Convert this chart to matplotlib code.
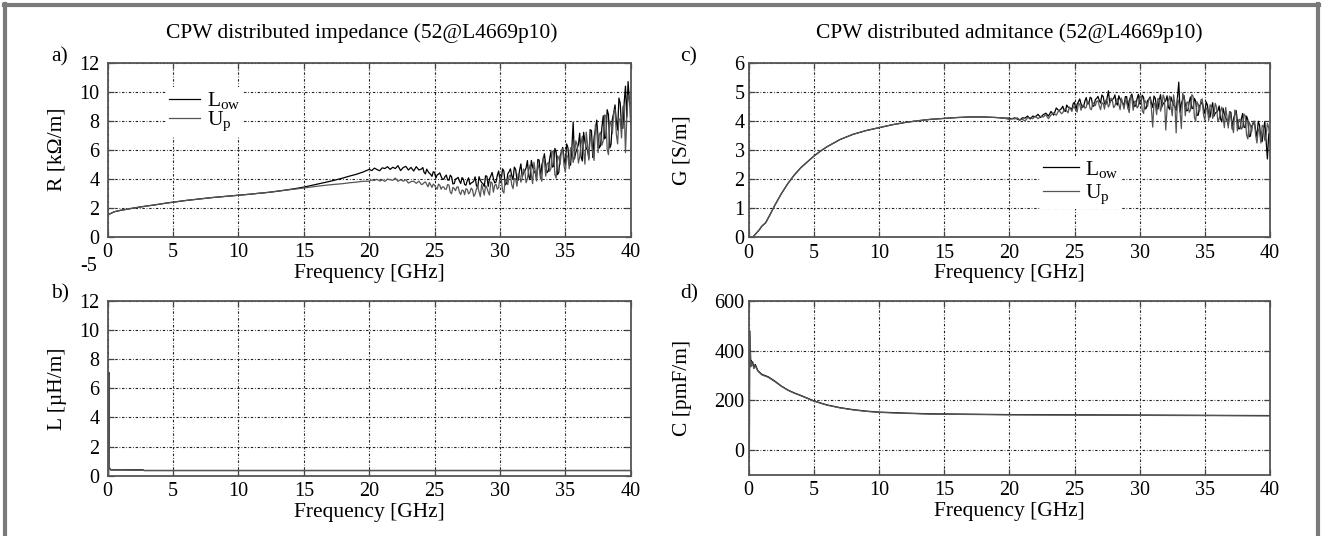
import numpy as np
import matplotlib
matplotlib.use("Agg")
import matplotlib.pyplot as plt

plt.rcParams['font.family'] = ['Liberation Serif', 'DejaVu Serif']
plt.rcParams['mathtext.fontset'] = 'custom'
plt.rcParams['mathtext.rm'] = 'Liberation Serif'
plt.rcParams['mathtext.it'] = 'Liberation Serif:italic'

# ---------------- data ----------------
x_ticks = [0, 5, 10, 15, 20, 25, 30, 35, 40]
series_names = ['L$_{\\rm ow}$', 'U$_{\\rm p}$']

# R [kOhm/m], low band (0 .. 19.5 GHz, 0.5 GHz step)
R_low_lo = [1.50, 1.72, 1.82, 1.90, 1.98, 2.05, 2.12, 2.18, 2.25, 2.32,
            2.38, 2.44, 2.50, 2.55, 2.60, 2.65, 2.70, 2.74, 2.78, 2.82,
            2.86, 2.90, 2.94, 2.99, 3.03, 3.08, 3.14, 3.20, 3.27, 3.34,
            3.42, 3.52, 3.62, 3.72, 3.82, 3.93, 4.05, 4.18, 4.30, 4.45]
R_up_lo = [1.50, 1.72, 1.82, 1.90, 1.98, 2.05, 2.12, 2.18, 2.25, 2.32,
           2.38, 2.44, 2.50, 2.55, 2.60, 2.65, 2.70, 2.74, 2.78, 2.82,
           2.86, 2.90, 2.94, 2.99, 3.03, 3.08, 3.14, 3.20, 3.25, 3.30,
           3.36, 3.42, 3.48, 3.53, 3.58, 3.62, 3.66, 3.72, 3.76, 3.82]
# R high band (20.0 .. 40.0 GHz, 0.2 GHz step)
R_low_hi = [4.64, 4.56, 4.73, 4.63, 4.55, 4.75, 4.70, 4.83, 4.64, 4.79,
            4.70, 4.90, 4.56, 4.77, 4.85, 4.60, 4.78, 4.53, 4.83, 4.60,
            4.67, 4.43, 4.66, 4.38, 4.16, 4.43, 4.26, 4.40, 3.97, 4.15,
            3.91, 4.24, 3.64, 3.97, 4.09, 3.67, 3.97, 3.55, 4.06, 3.70,
            3.84, 3.52, 4.14, 3.73, 3.46, 4.17, 3.99, 4.43, 3.71, 4.24,
            3.92, 4.68, 3.58, 4.34, 4.68, 3.94, 4.64, 3.90, 5.02, 4.40,
            4.74, 4.16, 5.26, 4.52, 4.02, 5.28, 4.94, 5.72, 4.42, 5.36,
            4.80, 6.09, 4.28, 5.57, 6.16, 4.95, 6.14, 4.93, 7.90, 5.81,
            6.36, 5.52, 7.20, 6.12, 5.40, 7.32, 6.84, 8.04, 6.12, 7.56,
            6.75, 8.76, 6.12, 8.13, 9.09, 7.35, 9.21, 7.47, 10.38, 10.70,
            9.20]
R_up_hi = [3.83, 3.91, 3.88, 3.96, 3.84, 3.92, 3.82, 3.97, 3.93, 3.89,
           4.04, 3.82, 3.93, 3.83, 3.93, 3.70, 3.80, 3.83, 3.68, 3.83,
           3.59, 3.73, 3.60, 3.74, 3.40, 3.54, 3.28, 3.55, 3.43, 3.27,
           3.60, 3.07, 3.40, 3.17, 3.44, 2.91, 3.18, 3.31, 2.95, 3.35,
           2.78, 3.28, 3.10, 3.60, 2.87, 3.37, 2.87, 3.69, 3.55, 3.28,
           4.10, 3.15, 3.94, 3.59, 4.26, 3.31, 3.98, 4.35, 3.76, 4.67,
           3.72, 4.59, 4.26, 5.13, 3.84, 4.71, 3.82, 5.25, 5.00, 4.51,
           5.90, 4.29, 5.58, 4.97, 6.06, 4.45, 5.54, 6.13, 5.12, 6.61,
           5.08, 6.39, 5.90, 7.21, 5.28, 6.59, 5.26, 7.41, 7.04, 6.31,
           8.40, 6.02, 7.99, 7.11, 8.78, 6.40, 8.07, 8.99, 5.80, 9.78,
           7.70]
# R in-between samples (24.1 .. 39.9 GHz, 0.2 GHz step)
R_low_mid = [4.77, 4.33, 4.49, 4.30, 4.48, 4.05, 4.32, 4.15, 3.96, 4.25,
             3.90, 4.14, 3.66, 4.02, 3.84, 4.08, 3.60, 3.87, 3.60, 3.75,
             4.13, 3.40, 3.89, 3.66, 4.20, 3.47, 4.19, 4.00, 3.77, 4.53,
             3.94, 4.52, 3.66, 4.48, 4.22, 4.80, 3.94, 4.58, 4.14, 4.54,
             5.25, 3.95, 4.81, 4.39, 5.33, 4.03, 5.29, 4.95, 4.53, 5.87,
             4.85, 5.84, 4.43, 5.82, 5.41, 6.40, 4.99, 6.08, 5.37, 6.06,
             7.14, 5.22, 6.54, 5.94, 7.38, 5.46, 7.38, 6.90, 6.30, 8.34,
             6.86, 8.42, 6.38, 8.54, 8.00, 9.56, 7.52, 9.23, 8.24, 9.35]
R_up_mid = [3.63, 3.78, 3.44, 3.58, 3.63, 3.39, 3.62, 3.27, 3.43, 3.28,
            3.56, 2.96, 3.33, 3.42, 3.07, 3.22, 2.90, 3.26, 3.06, 3.24,
            2.94, 3.48, 2.76, 3.26, 3.52, 3.08, 3.79, 3.07, 3.61, 3.39,
            4.08, 3.01, 3.86, 4.17, 3.58, 4.01, 3.48, 4.33, 4.04, 4.53,
            4.00, 4.95, 3.66, 4.53, 5.00, 4.19, 5.46, 4.17, 5.12, 4.71,
            5.85, 4.04, 5.43, 5.92, 4.91, 5.60, 4.69, 6.08, 5.57, 6.36,
            5.50, 6.93, 5.00, 6.31, 7.02, 5.81, 7.72, 5.79, 7.22, 6.61,
            8.34, 5.66, 7.78, 8.55, 7.07, 8.14, 6.81, 8.93, 8.20, 9.42]

# L [uH/m]
L_freq = [0.06, 0.08, 0.12, 0.2, 0.3, 1.0, 2.0, 2.7, 2.8, 10.0, 20.0, 30.0, 40.0]
L_low = [0.0, 7.1, 0.6, 0.42, 0.40, 0.40, 0.40, 0.40, 0.36, 0.36, 0.36, 0.36, 0.36]
L_up = [0.0, 6.9, 0.55, 0.40, 0.39, 0.39, 0.37, 0.37, 0.35, 0.35, 0.35, 0.35, 0.35]

# G [S/m], low band (identical for both)
G_freq_lo = [0.0, 0.3, 0.5, 0.8, 1.0, 1.3, 1.6, 2.0, 2.5, 3.0, 3.5, 4.0, 4.5, 5.0,
             5.5, 6.0, 7.0, 8.0, 9.0, 10.0, 11.0, 12.0, 13.0, 14.0, 15.0, 16.0,
             17.0, 18.0, 19.0, 19.6]
G_lo = [0.0, 0.0, 0.1, 0.25, 0.38, 0.5, 0.75, 1.1, 1.5, 1.85, 2.15, 2.4, 2.6, 2.8,
        2.97, 3.12, 3.37, 3.55, 3.68, 3.78, 3.88, 3.96, 4.02, 4.07, 4.10, 4.13,
        4.15, 4.15, 4.13, 4.11]
# G high band (20.0 .. 40.0 GHz, 0.2 GHz step)
G_low_hi = [4.11, 4.08, 4.12, 4.08, 4.04, 4.12, 4.11, 4.18, 4.08, 4.18,
            4.15, 4.24, 4.13, 4.23, 4.28, 4.18, 4.34, 4.21, 4.46, 4.36,
            4.44, 4.37, 4.56, 4.47, 4.41, 4.66, 4.59, 4.77, 4.48, 4.70,
            4.60, 4.83, 4.51, 4.75, 4.86, 4.63, 4.85, 4.58, 5.05, 4.71,
            4.79, 4.62, 4.88, 4.67, 4.53, 4.85, 4.72, 4.94, 4.51, 4.78,
            4.60, 4.90, 4.42, 4.71, 4.84, 4.48, 4.79, 4.42, 4.92, 4.60,
            4.71, 4.49, 4.84, 4.56, 4.37, 5.35, 4.63, 4.89, 4.36, 4.67,
            4.45, 4.79, 4.20, 4.54, 4.68, 4.27, 4.56, 4.14, 4.64, 4.28,
            4.37, 4.09, 4.45, 4.11, 3.87, 4.31, 4.10, 4.37, 3.74, 4.08,
            3.80, 4.18, 3.47, 3.85, 3.99, 3.46, 3.86, 3.30, 3.98, 2.70,
            3.62]
G_up_hi = [4.06, 4.10, 4.08, 4.12, 4.05, 4.07, 4.01, 4.12, 4.12, 4.09,
           4.18, 4.09, 4.17, 4.15, 4.22, 4.09, 4.22, 4.29, 4.21, 4.38,
           4.26, 4.38, 4.36, 4.49, 4.34, 4.48, 4.32, 4.59, 4.55, 4.45,
           4.68, 4.43, 4.64, 4.54, 4.71, 4.40, 4.62, 4.73, 4.49, 4.80,
           4.47, 4.69, 4.58, 4.80, 4.42, 4.66, 4.30, 4.80, 4.68, 4.46,
           4.88, 4.36, 4.72, 4.50, 4.80, 3.80, 4.59, 4.79, 4.35, 4.91,
           3.70, 4.71, 4.51, 4.91, 3.60, 4.64, 3.75, 4.84, 4.64, 4.31,
           4.92, 4.14, 4.67, 4.34, 4.77, 4.04, 4.41, 4.57, 4.10, 4.62,
           3.99, 4.35, 4.12, 4.48, 3.77, 4.13, 3.61, 4.25, 4.05, 3.73,
           4.25, 3.53, 3.97, 3.65, 4.01, 3.25, 3.66, 3.86, 3.34, 3.93,
           3.23]
# G in-between samples (24.1 .. 39.9 GHz, 0.2 GHz step)
G_low_mid = [4.52, 4.34, 4.49, 4.45, 4.61, 4.38, 4.67, 4.60, 4.51, 4.82,
             4.61, 4.79, 4.54, 4.79, 4.72, 4.91, 4.61, 4.80, 4.64, 4.75,
             4.91, 4.56, 4.76, 4.63, 4.85, 4.45, 4.83, 4.69, 4.54, 4.93,
             4.61, 4.82, 4.45, 4.76, 4.64, 4.87, 4.45, 4.72, 4.50, 4.66,
             4.88, 4.41, 4.68, 4.51, 4.82, 4.31, 4.74, 4.58, 4.38, 4.84,
             4.44, 4.69, 4.22, 4.59, 4.43, 4.67, 4.19, 4.45, 4.18, 4.32,
             4.53, 3.98, 4.25, 4.03, 4.33, 3.73, 4.22, 4.00, 3.75, 4.27,
             3.78, 4.05, 3.49, 3.90, 3.69, 4.00, 3.36, 3.72, 3.36, 3.56]
G_up_mid = [4.30, 4.44, 4.29, 4.42, 4.50, 4.39, 4.62, 4.38, 4.56, 4.49,
            4.67, 4.40, 4.61, 4.69, 4.53, 4.64, 4.42, 4.71, 4.58, 4.73,
            4.53, 4.78, 4.40, 4.62, 4.73, 4.45, 4.89, 4.38, 4.70, 4.52,
            4.84, 4.27, 4.65, 4.77, 4.43, 4.63, 4.23, 4.75, 4.51, 4.79,
            4.43, 4.87, 4.19, 4.59, 4.79, 4.32, 4.97, 4.19, 4.67, 4.39,
            4.87, 4.00, 4.57, 4.74, 4.22, 4.46, 4.03, 4.51, 4.24, 4.48,
            4.09, 4.49, 3.78, 4.14, 4.31, 3.83, 4.39, 3.67, 4.07, 3.79,
            4.19, 3.39, 3.87, 3.99, 3.51, 3.73, 3.25, 3.81, 3.51, 3.79]

# C [pF/m]
C_freq = [0.05, 0.07, 0.1, 0.13, 0.16, 0.2, 0.25, 0.3, 0.4, 0.5, 0.7, 1.0, 1.5,
          2.0, 2.5, 3.0, 3.5, 4.0, 5.0, 6.0, 7.0, 8.0, 9.0, 10.0, 12.0, 14.0,
          16.0, 20.0, 25.0, 30.0, 35.0, 40.0]
C_low = [-30, 480, 380, 400, 340, 360, 345, 355, 330, 345, 320, 305, 295,
         278, 258, 242, 230, 220, 198, 182, 171, 163, 157, 153, 149, 146,
         145, 143, 142, 141, 140, 139]
C_up = [-20, 460, 370, 390, 335, 355, 342, 350, 328, 340, 318, 303, 293,
        276, 257, 241, 229, 219, 197, 181, 170, 162, 156, 152, 148, 145,
        144, 142, 141, 140, 139, 138]

titles = ['CPW distributed impedance (52@L4669p10)',
          'CPW distributed admitance (52@L4669p10)']
ylabels = ['R [k\u03a9/m]', 'L [\u00b5H/m]', 'G [S/m]', 'C [pmF/m]']
panel_tags = ['a)', 'b)', 'c)', 'd)']

# ---------------- helpers ----------------
def merged(f_first, v_first, v_hi, v_mid):
    f_hi = np.linspace(20.0, 40.0, len(v_hi))
    f_mid = np.linspace(24.1, 39.9, len(v_mid))
    f = np.concatenate([f_first, f_hi, f_mid])
    v = np.concatenate([v_first, v_hi, v_mid])
    order = np.argsort(f, kind='stable')
    return f[order], v[order]

# ---------------- figure ----------------
W, H = 1323, 536
fig = plt.figure(figsize=(W / 100, H / 100), dpi=100)
fig.patch.set_facecolor('white')

def px_axes(left, top, right, bottom):
    return fig.add_axes([left / W, 1 - bottom / H, (right - left) / W, (bottom - top) / H])

ax_a = px_axes(107.7, 62.7, 630.7, 236.7)
ax_b = px_axes(107.7, 301.0, 630.7, 475.7)
ax_c = px_axes(748.7, 63.3, 1270.0, 237.3)
ax_d = px_axes(748.7, 301.0, 1270.0, 475.0)

c_low = '#000000'
c_up = '#555555'
lw = 0.9
grid_ls = (0, (2.2, 1.6, 0.7, 1.6))
fs = 14.5

def style(ax, ylim, yticks, ypad):
    ax.set_xlim(0, 40)
    ax.set_ylim(*ylim)
    ax.set_xticks(x_ticks)
    ax.set_yticks(yticks)
    ax.tick_params(direction='in', length=4, width=0.9, top=True, right=True,
                   labelsize=fs, color='#444444')
    ax.tick_params(axis='y', pad=ypad)
    ax.tick_params(axis='x', pad=4.5)
    for s in ax.spines.values():
        s.set_color('#555555')
        s.set_linewidth(1.3)
    ax.grid(True, color='#222222', linestyle=grid_ls, linewidth=0.8)
    ax.set_axisbelow(True)
    ax.set_xlabel('Frequency [GHz]', fontsize=fs + 1)
    ax.xaxis.set_label_coords(0.5, -0.21)
    ax.xaxis.label.set_va('center')

leg_kw = dict(fontsize=fs + 1, frameon=True, framealpha=1, edgecolor='none',
              facecolor='white', handletextpad=0.3, borderpad=0.15,
              borderaxespad=0, fancybox=False)

# panel a
f_lo = np.arange(0, 20, 0.5)
fa, ra = merged(f_lo, R_low_lo, R_low_hi, R_low_mid)
fb, rb = merged(f_lo, R_up_lo, R_up_hi, R_up_mid)
ax_a.plot(fa, ra, color=c_low, lw=lw, label=series_names[0])
ax_a.plot(fb, rb, color=c_up, lw=lw, label=series_names[1])
style(ax_a, (0, 12), [0, 2, 4, 6, 8, 10, 12], 6)
ax_a.legend(loc='upper left', bbox_to_anchor=(0.111, 0.861), handlelength=1.45,
            labelspacing=-0.06, **leg_kw)
ax_a.text(-0.02, -0.17, '-5', transform=ax_a.transAxes, ha='right', va='center', fontsize=fs)

# panel b
ax_b.plot(L_freq, L_low, color=c_low, lw=lw)
ax_b.plot(L_freq, L_up, color=c_up, lw=lw)
style(ax_b, (0, 12), [0, 2, 4, 6, 8, 10, 12], 6)

# panel c
fc, ga = merged(G_freq_lo, G_lo, G_low_hi, G_low_mid)
fd, gb = merged(G_freq_lo, G_lo, G_up_hi, G_up_mid)
ax_c.plot(fc, ga, color=c_low, lw=lw, label=series_names[0])
ax_c.plot(fd, gb, color=c_up, lw=lw, label=series_names[1])
style(ax_c, (0, 6), [0, 1, 2, 3, 4, 5, 6], 3)
ax_c.legend(loc='upper left', bbox_to_anchor=(0.559, 0.47), handlelength=1.65,
            labelspacing=0.13, **leg_kw)

# panel d
ax_d.plot(C_freq, C_low, color=c_low, lw=lw)
ax_d.plot(C_freq, C_up, color=c_up, lw=lw)
style(ax_d, (-100, 600), [0, 200, 400, 600], 3)

# y labels, titles, panel tags
for ax, lab, xc in [(ax_a, ylabels[0], -0.078), (ax_b, ylabels[1], -0.078),
                    (ax_c, ylabels[2], -0.109), (ax_d, ylabels[3], -0.109)]:
    ax.set_ylabel(lab, fontsize=fs + 1)
    ax.yaxis.set_label_coords(xc, 0.5)

fig.text(362 / W, 1 - 33 / H, titles[0], ha='center', va='center', fontsize=fs + 1)
fig.text(1009 / W, 1 - 33 / H, titles[1], ha='center', va='center', fontsize=fs + 1)
for tag, (x, y) in zip(panel_tags, [(60, 57), (60, 294), (689, 57), (689, 294)]):
    fig.text(x / W, 1 - y / H, tag, ha='center', va='center', fontsize=fs + 1)

# outer frame
frame_c = '#7a7a7a'
fig.add_artist(plt.Line2D([4 / W, 1319 / W], [1 - 5 / H, 1 - 5 / H], transform=fig.transFigure, color=frame_c, lw=3))
fig.add_artist(plt.Line2D([5 / W, 5 / W], [0, 1 - 4 / H], transform=fig.transFigure, color=frame_c, lw=3))
fig.add_artist(plt.Line2D([1318 / W, 1318 / W], [0, 1 - 4 / H], transform=fig.transFigure, color=frame_c, lw=3))

fig.savefig('out.png', dpi=100, facecolor='white')
